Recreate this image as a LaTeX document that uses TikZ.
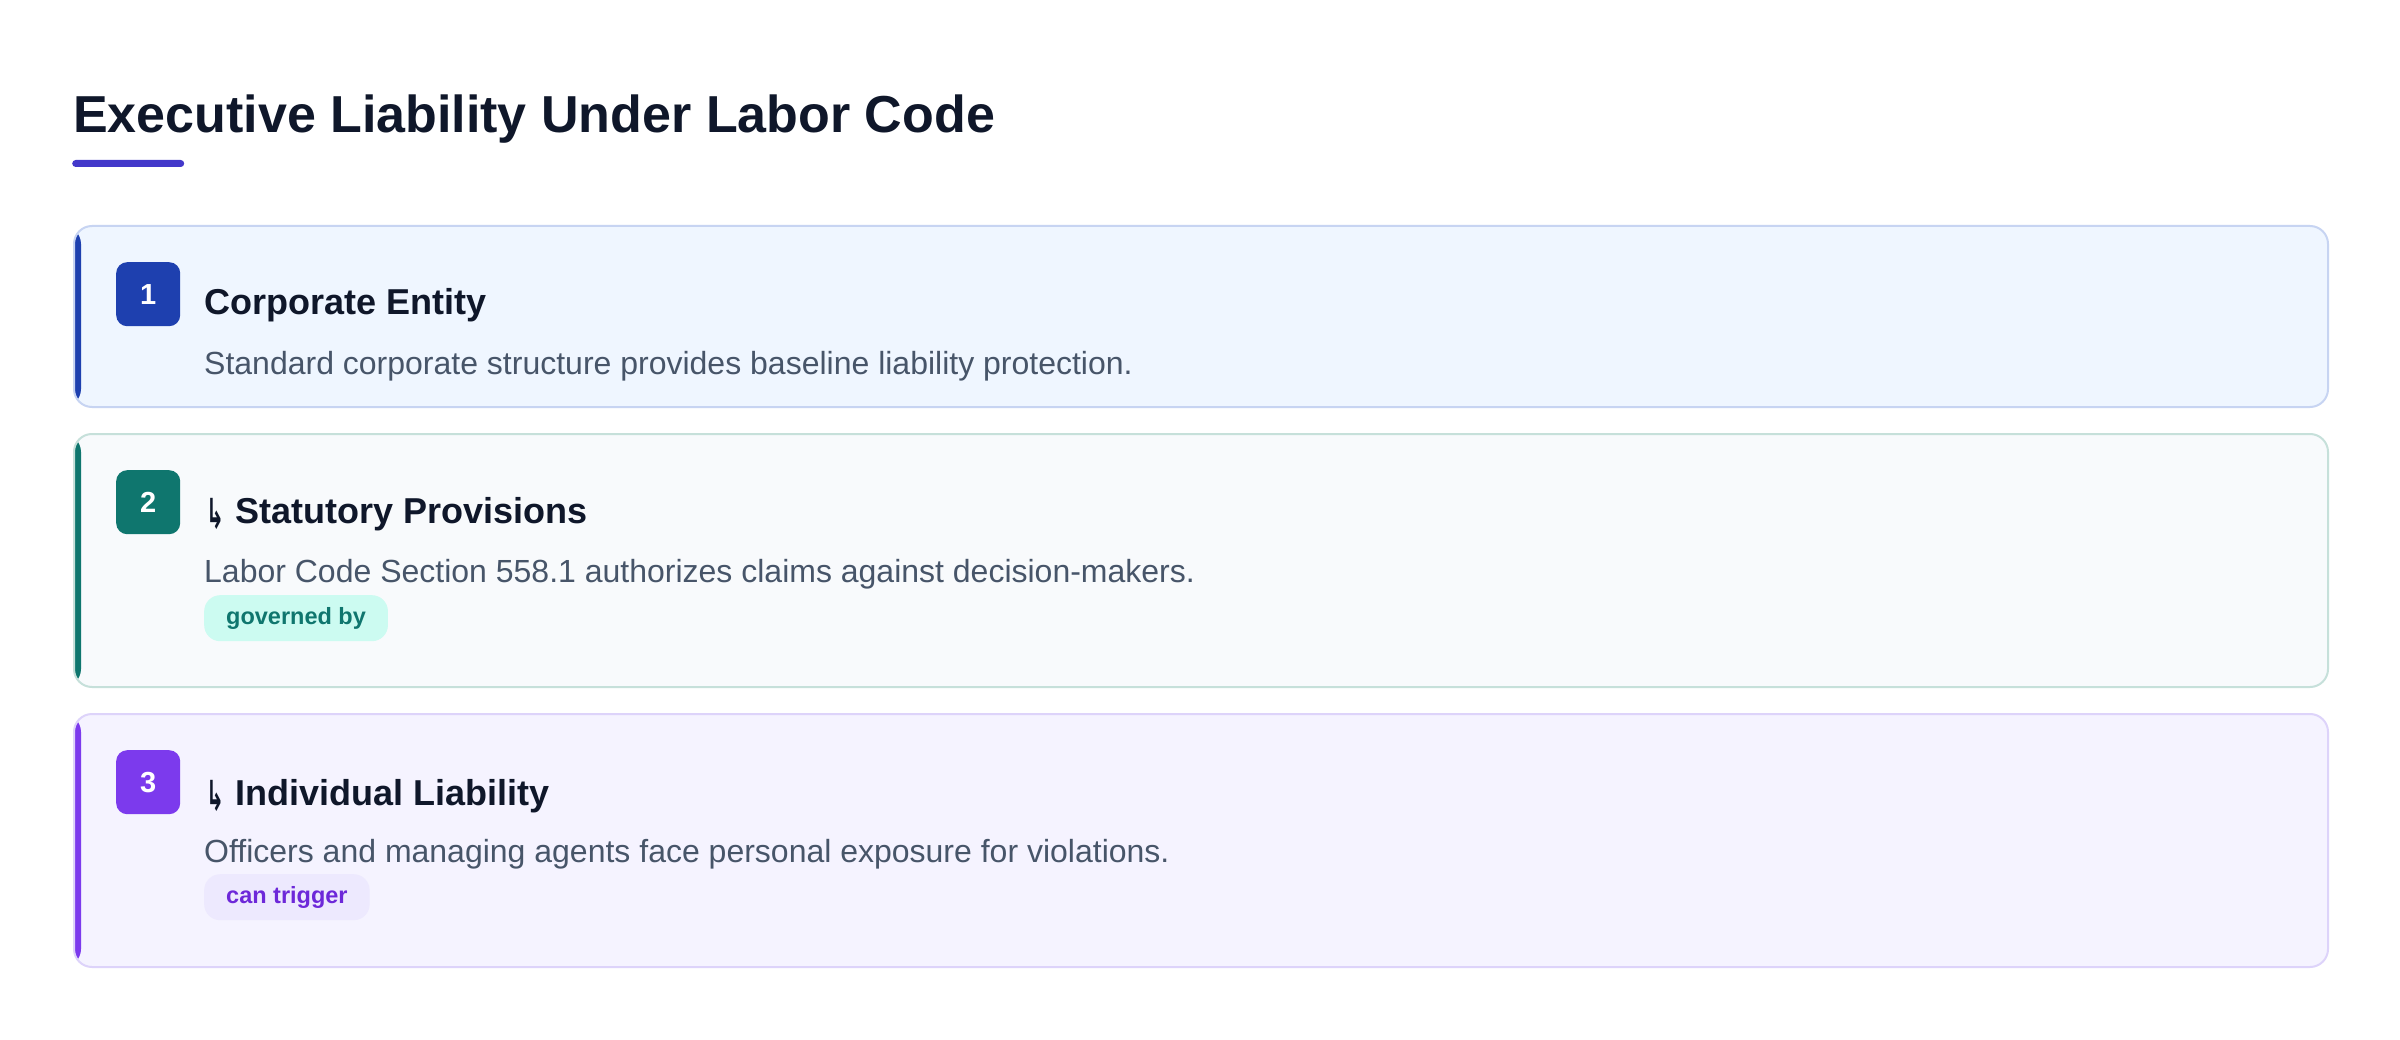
\documentclass[tikz,border=0pt]{standalone}
\usepackage{fontspec}
\setmainfont{Liberation Sans}
\newfontfamily\arrowfont{DejaVu Sans}
\usetikzlibrary{positioning}

\definecolor{ink}{HTML}{0F172A}
\definecolor{slate}{HTML}{475569}
\definecolor{indigo}{HTML}{4338CA}
\definecolor{bgone}{HTML}{EFF6FF}
\definecolor{bdone}{HTML}{C7D4F2}
\definecolor{acone}{HTML}{1E40AF}
\definecolor{bgtwo}{HTML}{F8FAFC}
\definecolor{bdtwo}{HTML}{C6E0DA}
\definecolor{actwo}{HTML}{0F766E}
\definecolor{bgthree}{HTML}{F5F3FF}
\definecolor{bdthree}{HTML}{DDD3FA}
\definecolor{acthree}{HTML}{7C3AED}
\definecolor{pilltwo}{HTML}{CCFBF1}
\definecolor{pillthree}{HTML}{EDE9FE}
\definecolor{pilltxtthree}{HTML}{6D28D9}

\tikzset{
  card/.style={rounded corners=18pt, line width=2pt, anchor=north west,
    minimum width=2254pt, inner sep=0pt},
  badge/.style={rounded corners=11pt, minimum size=64pt, inner sep=0pt,
    anchor=north west, text=white, font=\fontsize{29}{29}\selectfont\bfseries},
  head/.style={anchor=base west, inner sep=0pt, text=ink,
    font=\fontsize{36}{36}\selectfont\bfseries},
  desc/.style={anchor=base west, inner sep=0pt, text=slate,
    font=\fontsize{32}{32}\selectfont},
  tag/.style={rounded corners=16pt, inner xsep=22pt, inner ysep=0pt,
    minimum height=46pt, anchor=north west,
    font=\fontsize{23.5}{23.5}\selectfont\bfseries},
}

\newcommand{\sidebar}[1]{%
  \fill[#1] (path picture bounding box.north west) rectangle
    ([xshift=7pt]path picture bounding box.south west);}
\newcommand{\subarrow}{%
  \raisebox{-5pt}{\scalebox{0.6}[1.15]{\arrowfont\char"21B3}}\hspace{11pt}}

\begin{document}
\begin{tikzpicture}[x=1pt, y=-1pt]
\useasboundingbox[fill=white] (0,0) rectangle (2400,1040);

% title
\node[anchor=base west, inner sep=0pt, text=ink,
  font=\fontsize{52}{52}\selectfont\bfseries] (title) at (73,133)
  {Executive Liability Under Labor Code};
\node[fill=indigo, rounded corners=3.5pt, minimum width=112pt,
  minimum height=7pt, inner sep=0pt, anchor=west] (rule) at (72,163.5) {};

% cards
\node[card, draw=bdone, fill=bgone, minimum height=181pt,
  path picture={\sidebar{acone}}] (card1) at (73,225) {};
\node[card, draw=bdtwo, fill=bgtwo, minimum height=253pt,
  path picture={\sidebar{actwo}}] (card2) at (73,433) {};
\node[card, draw=bdthree, fill=bgthree, minimum height=253pt,
  path picture={\sidebar{acthree}}] (card3) at (73,713) {};

% step 1
\node[badge, fill=acone] (num1) at (116,262) {1};
\node[head] (head1) at (204,315) {Corporate Entity};
\node[desc] (desc1) at (204,374)
  {Standard corporate structure provides baseline liability protection.};

% step 2
\node[badge, fill=actwo] (num2) at (116,470) {2};
\node[head] (head2) at (206,523) {\subarrow Statutory Provisions};
\node[desc] (desc2) at (204,582)
  {Labor Code Section 558.1 authorizes claims against decision-makers.};
\node[tag, fill=pilltwo, text=actwo] (tag2) at (204,595) {governed by};

% step 3
\node[badge, fill=acthree] (num3) at (116,750) {3};
\node[head] (head3) at (206,805) {\subarrow Individual Liability};
\node[desc] (desc3) at (204,862)
  {Officers and managing agents face personal exposure for violations.};
\node[tag, fill=pillthree, text=pilltxtthree] (tag3) at (204,874) {can trigger};
\end{tikzpicture}
\end{document}
